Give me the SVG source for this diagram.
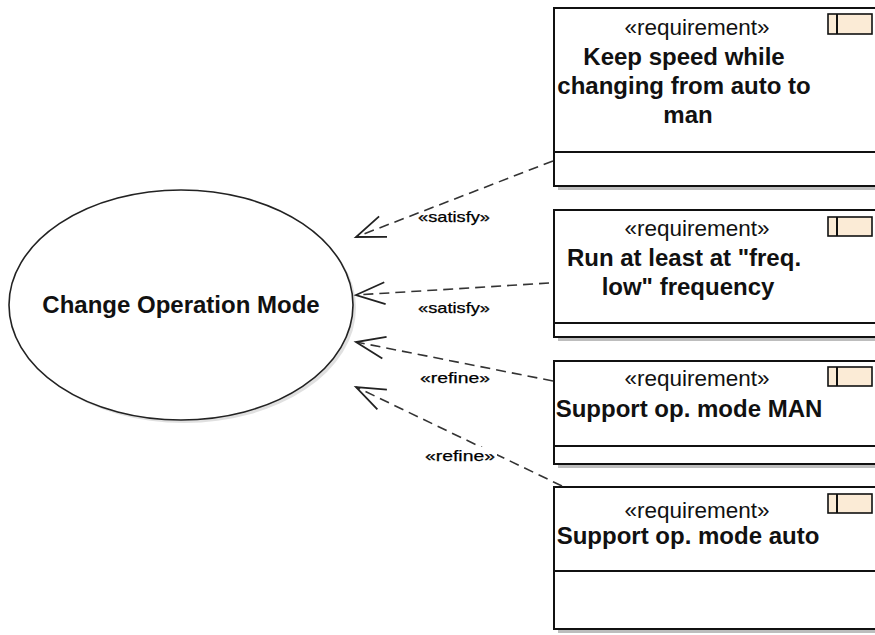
<svg xmlns="http://www.w3.org/2000/svg" width="875" height="635" viewBox="0 0 875 635">
  <defs>
    <style>
      .req { fill: #ffffff; stroke: #111111; stroke-width: 2; }
      .shadow { fill: #bdbdbd; }
      .div { stroke: #111111; stroke-width: 2; }
      .icon { fill: #fbebd6; stroke: #111111; stroke-width: 1.6; }
      .stereo { font-family: "Liberation Sans", Arial, sans-serif; font-size: 22.5px; fill: #111111; text-anchor: middle; }
      .title { font-family: "Liberation Sans", Arial, sans-serif; font-size: 24px; font-weight: bold; fill: #111111; text-anchor: middle; }
      .dep { fill: none; stroke: #333333; stroke-width: 1.6; stroke-dasharray: 10 6; marker-end: url(#open); }
      .lbl { font-family: "Liberation Sans", Arial, sans-serif; font-size: 15px; fill: #000000; stroke: #000000; stroke-width: 0.25; }
    </style>
    <marker id="open" markerUnits="userSpaceOnUse" markerWidth="40" markerHeight="40" viewBox="-35 -20 40 40" refX="0" refY="0" orient="auto">
      <path d="M-29,-11 L0,0 L-29,11" fill="none" stroke="#222222" stroke-width="1.8"/>
    </marker>
  </defs>
  <rect width="875" height="635" fill="#ffffff"/>

  <!-- use case -->
  <g id="change-operation-mode">
    <ellipse cx="184" cy="308" rx="172" ry="115" fill="#cccccc" opacity="0.6"/>
    <ellipse cx="181" cy="305" rx="172" ry="115" fill="#ffffff" stroke="#222222" stroke-width="1.6"/>
    <text x="181" y="313" class="title">Change Operation Mode</text>
  </g>

  <!-- requirements -->
  <g id="req-keep-speed">
    <rect x="558" y="12" width="340" height="178" class="shadow"/>
    <rect x="554" y="8" width="340" height="178" class="req"/>
    <line x1="554" y1="152" x2="894" y2="152" class="div"/>
    <rect x="828" y="14" width="44" height="20" class="icon"/>
    <line x1="837" y1="14" x2="837" y2="34" class="div" stroke-width="1.6"/>
    <text x="697" y="35" class="stereo">«requirement»</text>
    <text x="684" y="65" class="title">Keep speed while</text>
    <text x="684" y="94" class="title">changing from auto to</text>
    <text x="688" y="123" class="title">man</text>
  </g>

  <g id="req-run-freq-low">
    <rect x="558" y="214" width="340" height="127" class="shadow"/>
    <rect x="554" y="210" width="340" height="127" class="req"/>
    <line x1="554" y1="323" x2="894" y2="323" class="div"/>
    <rect x="828" y="217" width="44" height="19" class="icon"/>
    <line x1="837" y1="217" x2="837" y2="236" class="div" stroke-width="1.6"/>
    <text x="697" y="236" class="stereo">«requirement»</text>
    <text x="684" y="266" class="title">Run at least at "freq.</text>
    <text x="688" y="295" class="title">low" frequency</text>
  </g>

  <g id="req-support-man">
    <rect x="558" y="365" width="340" height="103" class="shadow"/>
    <rect x="554" y="361" width="340" height="103" class="req"/>
    <line x1="554" y1="446" x2="894" y2="446" class="div"/>
    <rect x="828" y="367" width="44" height="19" class="icon"/>
    <line x1="837" y1="367" x2="837" y2="386" class="div" stroke-width="1.6"/>
    <text x="697" y="386" class="stereo">«requirement»</text>
    <text x="689" y="417" class="title">Support op. mode MAN</text>
  </g>

  <g id="req-support-auto">
    <rect x="558" y="491" width="340" height="142" class="shadow"/>
    <rect x="554" y="487" width="340" height="142" class="req"/>
    <line x1="554" y1="571" x2="894" y2="571" class="div"/>
    <rect x="828" y="494" width="44" height="19" class="icon"/>
    <line x1="837" y1="494" x2="837" y2="513" class="div" stroke-width="1.6"/>
    <text x="697" y="518" class="stereo">«requirement»</text>
    <text x="688" y="544" class="title">Support op. mode auto</text>
  </g>

  <!-- dependencies -->
  <g id="connectors">
    <path d="M553,161 L356,237" class="dep"/>
    <path d="M549,283 L356,295" class="dep"/>
    <path d="M553,381 L356,342" class="dep"/>
    <path d="M562,486 L356,387" class="dep"/>
    <text x="418" y="222" class="lbl" textLength="72" lengthAdjust="spacingAndGlyphs">«satisfy»</text>
    <text x="418" y="313" class="lbl" textLength="72" lengthAdjust="spacingAndGlyphs">«satisfy»</text>
    <text x="420" y="383" class="lbl" textLength="70" lengthAdjust="spacingAndGlyphs">«refine»</text>
    <rect x="423" y="447" width="74" height="18" fill="#ffffff"/>
    <text x="425" y="461" class="lbl" textLength="70" lengthAdjust="spacingAndGlyphs">«refine»</text>
  </g>
</svg>
